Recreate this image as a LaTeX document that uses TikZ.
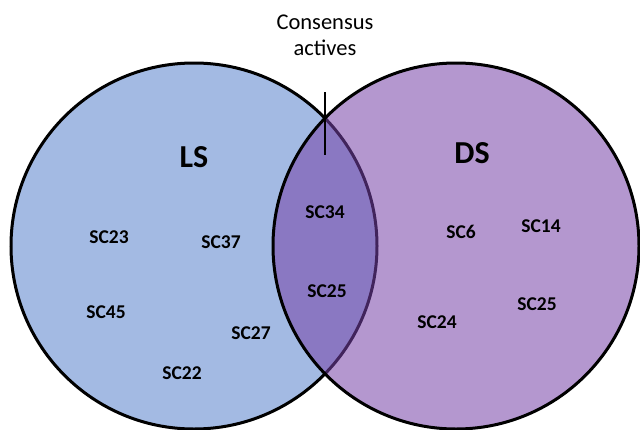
\documentclass[tikz,border=0pt]{standalone}
\usepackage{fontspec}
\setmainfont{Carlito}
\usetikzlibrary{positioning}
\definecolor{lsblue}{HTML}{A3BAE3}
\definecolor{dspurple}{HTML}{7742A8}

\begin{document}
\begin{tikzpicture}[x=1pt,y=-1pt,
		set/.style={circle,draw=black,line width=3pt,minimum size=366pt,inner sep=0pt},
		cpd/.style={font=\bfseries\fontsize{19.5}{22}\selectfont,inner sep=0pt},
		setname/.style={font=\bfseries\fontsize{32}{36}\selectfont,inner sep=0pt}]
		\useasboundingbox (0,0) rectangle (640,429);
		\node[set,fill=lsblue] (ls) at (194,246) {};
		\node[set,fill=dspurple,fill opacity=0.55] (ds) at (456,246) {};
		\node[setname] (ls_name) at (194,157) {LS};
		\node[setname] (ds_name) at (472,153) {DS};
		% left only
		\node[cpd] (sc_23) at (109,237) {SC23};
		\node[cpd] (sc_37) at (221,242) {SC37};
		\node[cpd] (sc_45) at (106,312) {SC45};
		\node[cpd] (sc_27) at (251,333) {SC27};
		\node[cpd] (sc_22) at (182,373) {SC22};
		% both
		\node[cpd] (sc_34) at (325,212) {SC34};
		\node[cpd] (sc_25) at (327,291) {SC25};
		% right only
		\node[cpd] (sc_6) at (461,232) {SC6};
		\node[cpd] (sc_14) at (541,226) {SC14};
		\node[cpd] (sc_25b) at (537,304) {SC25};
		\node[cpd] (sc_24) at (437,322) {SC24};
		\coordinate (tick_top) at (325,92);
		\coordinate (tick_bot) at (325,155);
		\draw[line width=2.5pt] (tick_top) -- (tick_bot);
		\node[font=\fontsize{22.5}{26}\selectfont,align=center,inner sep=0pt,anchor=north] (consensus) at (325,15) {Consensus\\actives};
\end{tikzpicture}
\end{document}
